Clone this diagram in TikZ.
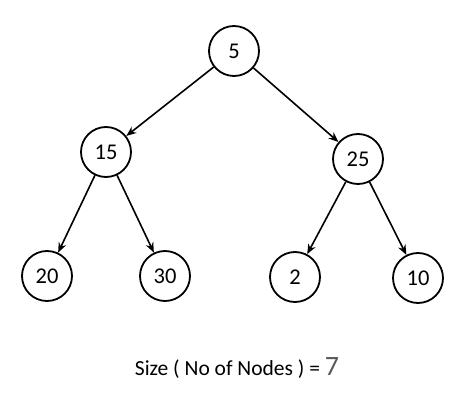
\documentclass[tikz,border=0pt]{standalone}
\usepackage{fontspec}
\setmainfont{Carlito}
\usetikzlibrary{arrows.meta}
\definecolor{sizegray}{RGB}{90,90,90}

\begin{document}
\begin{tikzpicture}[
    x=1pt, y=-1pt,
    vertex/.style={circle, draw, line width=1.8pt, minimum size=50pt, inner sep=0pt, font=\fontsize{22.5}{26}\selectfont},
    arrow/.style={-{Stealth[length=10pt, width=8pt]}, line width=1.6pt}
]
  \useasboundingbox (0,0) rectangle (474,409);

  % Nodes
  \node[vertex] (n5)  at (234,51)  {5};
  \node[vertex] (n15) at (106,152) {15};
  \node[vertex] (n25) at (358,159) {25};
  \node[vertex] (n20) at (47,276)  {20};
  \node[vertex] (n30) at (165,276) {30};
  \node[vertex] (n2)  at (295,277) {2};
  \node[vertex] (n10) at (418,278) {10};

  \node[font=\fontsize{21.5}{26}\selectfont] (size) at (237,368)
    {Size ( No of Nodes ) = {\color{sizegray}\fontsize{28}{32}\selectfont 7}};

  % Arrows
  \draw[arrow] (n5) -- (n15);
  \draw[arrow] (n5) -- (n25);
  \draw[arrow] (n15) -- (n20);
  \draw[arrow] (n15) -- (n30);
  \draw[arrow] (n25) -- (n2);
  \draw[arrow] (n25) -- (n10);
\end{tikzpicture}
\end{document}
